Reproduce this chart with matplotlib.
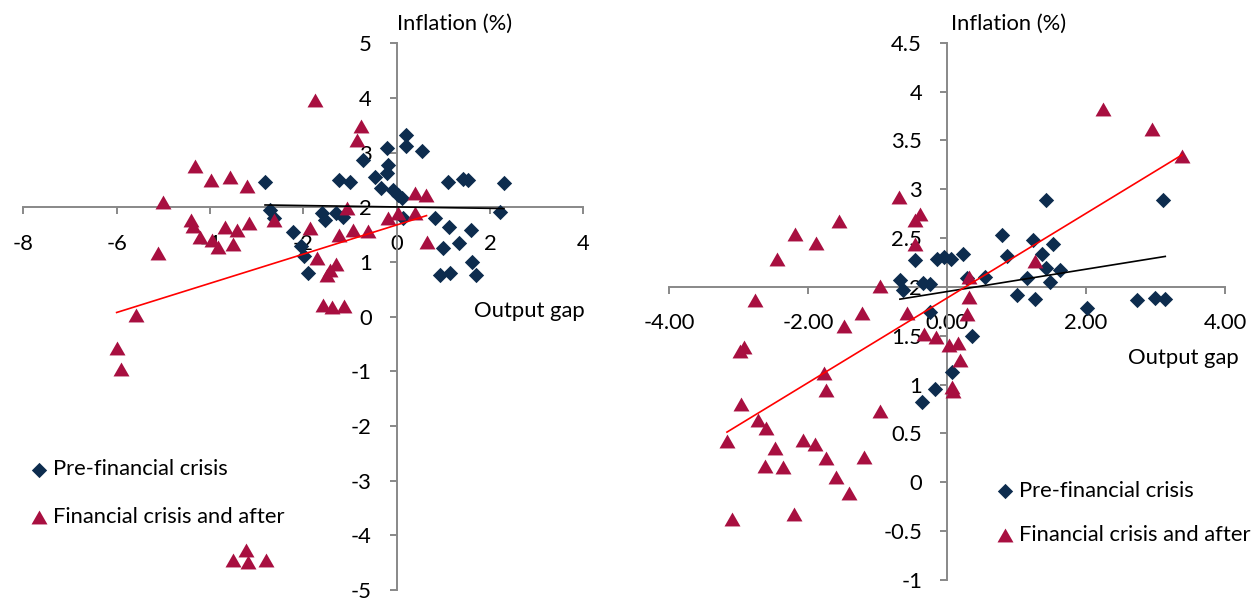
import numpy as np
import matplotlib.pyplot as plt
from matplotlib.path import Path

plt.rcParams['font.family'] = ['Lato', 'DejaVu Sans']

# Left panel: output gap vs inflation
gap_l_pre = [-2.82, -2.71, -2.62, -2.22, -2.04, -1.98, -1.89, -1.61, -1.54, -1.29,
             -1.14, -1.23, -0.99, -0.72, -0.21, -0.18, -0.46, -0.34, -0.21, -0.07,
             0.03, 0.11, 0.14, 0.21, 0.21, 0.54, 1.11, 1.43, 1.53, 2.30,
             2.21, 0.82, 1.13, 1.59, 1.33, 1.00, 1.61, 0.93, 1.14, 1.71]
infl_l_pre = [2.46, 1.95, 1.80, 1.54, 1.30, 1.10, 0.80, 1.89, 1.77, 1.89,
              1.83, 2.50, 2.47, 2.86, 3.08, 2.77, 2.56, 2.35, 2.62, 2.32,
              2.22, 2.16, 1.80, 3.33, 3.12, 3.03, 2.47, 2.51, 2.50, 2.44,
              1.92, 1.81, 1.63, 1.59, 1.35, 1.25, 0.99, 0.76, 0.79, 0.76]
gap_l_post = [-1.75, -0.77, -0.86, -4.32, -3.97, -3.57, -3.20, -5.01, -4.41, -4.36,
              -4.21, -3.96, -3.68, -3.42, -3.50, -3.82, -3.16, -2.62, -5.11, -1.86,
              -1.07, -1.23, -0.93, -0.61, -1.71, -1.29, -1.43, -1.49, -1.57, -1.38,
              -1.13, -0.19, 0.03, 0.39, 0.63, 0.39, 0.64, -5.59, -6.00, -5.91,
              -3.51, -3.23, -3.18, -2.81]
infl_l_post = [3.96, 3.49, 3.23, 2.76, 2.49, 2.56, 2.38, 2.10, 1.76, 1.65,
               1.46, 1.41, 1.64, 1.58, 1.33, 1.27, 1.72, 1.76, 1.16, 1.62,
               1.98, 1.49, 1.59, 1.57, 1.07, 0.96, 0.85, 0.76, 0.21, 0.18,
               0.20, 1.81, 1.89, 2.26, 2.22, 1.89, 1.37, 0.03, -0.58, -0.96,
               -4.45, -4.27, -4.48, -4.46]

# Right panel
gap_r_pre = [1.43, 3.11, 0.79, 1.24, 1.52, 0.86, 1.36, 0.23, -0.15, -0.04,
             0.05, -0.47, 1.43, 1.63, 1.15, 0.55, 0.28, 1.48, -0.24, -0.68,
             -0.63, -0.35, 1.00, 1.26, 2.02, 2.74, 2.99, 3.14, 0.36, 0.07,
             -0.17, -0.36, -0.25]
infl_r_pre = [2.89, 2.89, 2.53, 2.48, 2.44, 2.32, 2.34, 2.34, 2.29, 2.31,
              2.29, 2.28, 2.19, 2.17, 2.09, 2.10, 2.09, 2.05, 2.03, 2.07,
              1.97, 2.04, 1.92, 1.88, 1.78, 1.87, 1.89, 1.88, 1.50, 1.13,
              0.96, 0.82, 1.74]
gap_r_post = [-0.70, -0.46, -0.39, -0.46, -1.55, -2.19, -1.89, -2.45, -0.97, -2.77,
              0.32, 0.32, -0.58, 0.28, -1.22, -1.48, -0.34, -0.16, 0.02, 0.16,
              0.19, 0.07, 0.09, -2.92, -2.98, -1.78, -1.75, -0.96, -2.97, -2.72,
              -2.61, -3.17, -2.07, -1.90, -2.48, -1.74, -1.20, -2.62, -2.36, -1.60,
              -1.41, -2.21, -3.10, 2.24, 2.95, 3.38, 1.26]
infl_r_post = [2.92, 2.68, 2.75, 2.44, 2.67, 2.54, 2.45, 2.29, 2.01, 1.87,
               2.10, 1.90, 1.73, 1.72, 1.73, 1.60, 1.52, 1.49, 1.41, 1.43,
               1.25, 0.98, 0.93, 1.39, 1.34, 1.12, 0.94, 0.73, 0.80, 0.64,
               0.56, 0.42, 0.43, 0.39, 0.35, 0.25, 0.26, 0.17, 0.16, 0.05,
               -0.11, -0.32, -0.38, 3.82, 3.62, 3.34, 2.27]

NAVY = '#0d2c4e'
CRIMSON = '#a80f40'
GREY = '#888888'
tri = Path([(-1, -0.87), (1, -0.87), (0, 0.87), (-1, -0.87)],
           [Path.MOVETO, Path.LINETO, Path.LINETO, Path.CLOSEPOLY])


def trend(ax, x, y, color):
    x = np.array(x)
    slope, icpt = np.polyfit(x, np.array(y), 1)
    xs = np.array([x.min(), x.max()])
    ax.plot(xs, slope * xs + icpt, color=color, lw=1.2, zorder=4)


def panel(ax, gx_pre, iy_pre, gx_post, iy_post, xlim, ylim, xticks, yticks, xfmt, yfmt):
    ax.scatter(gx_pre, iy_pre, marker='D', s=7.8 ** 2, color=NAVY, lw=0,
               zorder=3, label='Pre-financial crisis')
    ax.scatter(gx_post, iy_post, marker=tri, s=11.5 ** 2, color=CRIMSON, lw=0,
               zorder=3, label='Financial crisis and after')
    trend(ax, gx_pre, iy_pre, 'black')
    trend(ax, gx_post, iy_post, '#ff0000')
    ax.set_xlim(*xlim)
    ax.set_ylim(*ylim)
    ax.set_xticks(xticks)
    ax.set_yticks(yticks)
    ax.set_xticklabels([xfmt(v) for v in xticks])
    ax.set_yticklabels([yfmt(v) for v in yticks])
    ax.spines['left'].set_position(('data', 0))
    ax.spines['bottom'].set_position(('data', 2))
    for s in ('top', 'right'):
        ax.spines[s].set_visible(False)
    for s in ('left', 'bottom'):
        ax.spines[s].set_color(GREY)
        ax.spines[s].set_linewidth(1.4)
    ax.tick_params(axis='both', direction='out', length=5, width=1.4,
                   color=GREY, labelsize=15.8, labelcolor='black')
    ax.tick_params(axis='x', pad=14)
    ax.tick_params(axis='y', pad=13)
    ax.patch.set_alpha(0)


W, H = 1254, 598
fig = plt.figure(figsize=(W / 100, H / 100), dpi=100)
ax1 = fig.add_axes([23.3 / W, 1 - 590 / H, 560 / W, 546.8 / H])
ax2 = fig.add_axes([669.3 / W, 1 - 580 / H, 555.7 / W, 537.3 / H])

panel(ax1, gap_l_pre, infl_l_pre, gap_l_post, infl_l_post,
      (-8, 4), (-5, 5), range(-8, 5, 2), range(-5, 6),
      lambda v: f'{v:g}', lambda v: f'{v:g}')
panel(ax2, gap_r_pre, infl_r_pre, gap_r_post, infl_r_post,
      (-4, 4), (-1, 4.5), np.arange(-4, 4.1, 2), np.arange(-1, 4.6, 0.5),
      lambda v: f'{v:.2f}', lambda v: f'{v:g}')

fs = 15.8
fig.text(397 / W, 1 - 24 / H, 'Inflation (%)', fontsize=fs, va='center', ha='left')
fig.text(951 / W, 1 - 24 / H, 'Inflation (%)', fontsize=fs, va='center', ha='left')
fig.text(585 / W, 1 - 311 / H, 'Output gap', fontsize=fs, va='center', ha='right')
fig.text(1239 / W, 1 - 358 / H, 'Output gap', fontsize=fs, va='center', ha='right')

ax1.legend(loc='center left', bbox_to_anchor=(32.5 / W, 1 - 493 / H),
           bbox_transform=fig.transFigure, frameon=False, fontsize=fs,
           handlelength=0.6, handletextpad=0.34, labelspacing=1.25,
           borderpad=0, borderaxespad=0, scatterpoints=1)
ax2.legend(loc='center left', bbox_to_anchor=(998.5 / W, 1 - 513 / H),
           bbox_transform=fig.transFigure, frameon=False, fontsize=fs,
           handlelength=0.6, handletextpad=0.34, labelspacing=1.08,
           borderpad=0, borderaxespad=0, scatterpoints=1)

fig.savefig('out.png', dpi=100)
